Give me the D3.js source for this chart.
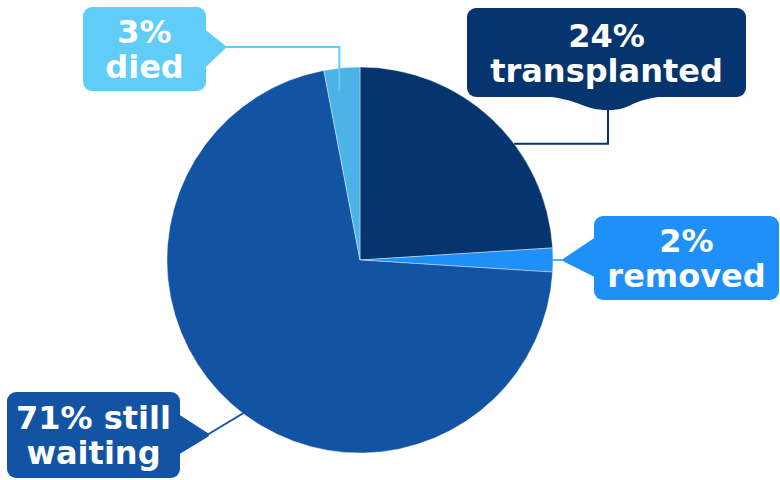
<!DOCTYPE html>
<html>
<head>
<meta charset="utf-8">
<script src="https://cdn.jsdelivr.net/npm/d3@7"></script>
<style>
  html, body { margin: 0; padding: 0; background: #fff; }
  svg { display: block; }
  .callout text { font-family: "DejaVu Sans", sans-serif; font-weight: bold; fill: #fff; }
</style>
</head>
<body>
<svg id="chart" width="780" height="480"></svg>
<script>
// Data, clockwise from 12 o'clock
const categories = ["transplanted", "removed", "still waiting", "died"];
const shares = [24, 2, 71, 3];
const firstLineWords = [0, 0, 1, 0]; // category words kept next to the percentage

const sliceColors = ["#06346f", "#1e90f7", "#1353a4", "#4bb3e5"];
const boxColors = ["#06346f", "#1e90f7", "#1353a4", "#60cdf9"];

const width = 780;
const height = 480;
const cx = 360, cy = 260, radius = 193;

const svg = d3.select("#chart");

// polar point on the pie, angle in degrees clockwise from top
function polar(deg, r) {
  const a = deg * Math.PI / 180;
  return [cx + r * Math.sin(a), cy - r * Math.cos(a)];
}

// Callout layout (box, pointer, leader anchor on the pie)
const callouts = [
  { box: [467, 8, 279, 89], pointer: { type: "bump", base: [545, 665], tip: [608, 110] },
    anchor: { angle: 53, r: radius }, leader: "down", lw: 2 },
  { box: [594, 216, 185, 84], pointer: { type: "left", base: [240, 275], tip: [565, 260] },
    anchor: { angle: 90, r: radius }, leader: "straight", lw: 1.5 },
  { box: [7, 392, 173, 86], pointer: { type: "right", base: [417, 452], tip: [207, 435] },
    anchor: { angle: 217, r: 190 }, leader: "straight", lw: 2 },
  { box: [83, 7, 123, 84], pointer: { type: "right", base: [32, 65], tip: [224, 47] },
    anchor: { angle: 353, r: 170 }, leader: "across", lw: 2 }
];

const pie = d3.pie().sort(null).value(d => d)(shares);
const arc = d3.arc().innerRadius(0).outerRadius(radius);

const g = svg.append("g").attr("transform", `translate(${cx},${cy})`);
g.selectAll("path.slice")
  .data(pie)
  .enter().append("path")
    .attr("class", "slice")
    .attr("d", arc)
    .attr("fill", (d, i) => sliceColors[i])
    .attr("stroke", "#fff")
    .attr("stroke-width", 0.4);

// leader lines
callouts.forEach((c, i) => {
  const a = polar(c.anchor.angle, c.anchor.r);
  const t = c.pointer.tip;
  let pts;
  if (c.leader === "down") pts = [[t[0], t[1] - 10], [t[0], a[1]], a];
  else if (c.leader === "across") pts = [t, [a[0], t[1]], a];
  else pts = [t, a];
  svg.append("path")
    .attr("d", d3.line()(pts))
    .attr("fill", "none")
    .attr("stroke", boxColors[i])
    .attr("stroke-width", c.lw);
});

// callout boxes
callouts.forEach((c, i) => {
  const [x, y, w, h] = c.box;
  const p = c.pointer;
  const grp = svg.append("g").attr("class", "callout");
  grp.append("rect")
    .attr("x", x).attr("y", y).attr("width", w).attr("height", h)
    .attr("rx", 9)
    .attr("fill", boxColors[i]);

  const path = d3.path();
  if (p.type === "bump") {
    const yb = y + h - 1;
    path.moveTo(p.base[0], yb);
    path.bezierCurveTo(p.base[0] + 40, yb + 5, p.tip[0] - 25, p.tip[1], p.tip[0], p.tip[1]);
    path.bezierCurveTo(p.tip[0] + 25, p.tip[1], p.base[1] - 40, yb + 5, p.base[1], yb);
    path.closePath();
    grp.append("path").attr("d", path.toString()).attr("fill", boxColors[i]);
  } else {
    const xb = p.type === "left" ? x + 1 : x + w - 1;
    path.moveTo(xb, p.base[0]);
    path.lineTo(p.tip[0], p.tip[1]);
    path.lineTo(xb, p.base[1]);
    path.closePath();
    grp.append("path").attr("d", path.toString())
      .attr("fill", boxColors[i])
      .attr("stroke", boxColors[i])
      .attr("stroke-width", 4)
      .attr("stroke-linejoin", "round");
  }

  const words = categories[i].split(" ");
  const k = firstLineWords[i];
  const lines = [
    [shares[i] + "%"].concat(words.slice(0, k)).join(" "),
    words.slice(k).join(" ")
  ];
  const b1 = y + h / 2 - 6;
  grp.selectAll("text.line")
    .data(lines)
    .enter().append("text")
      .attr("x", x + w / 2)
      .attr("y", (d, j) => b1 + j * 35)
      .attr("text-anchor", "middle")
      .attr("font-size", 32)
      .text(d => d);
});
</script>
</body>
</html>
